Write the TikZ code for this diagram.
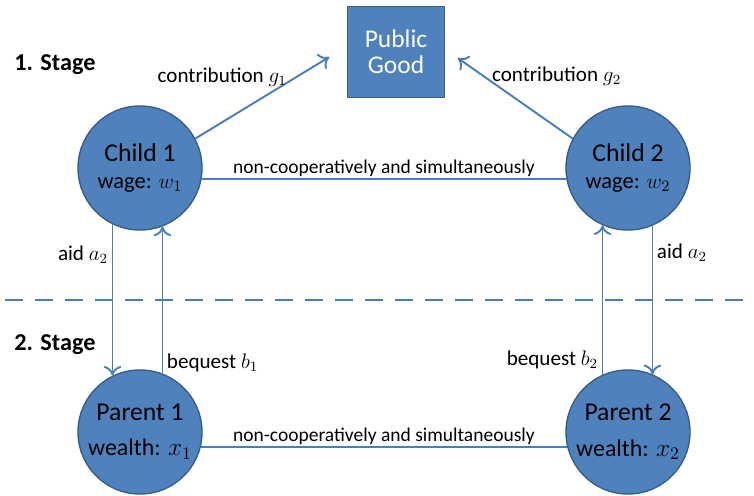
\documentclass[tikz,border=0pt]{standalone}
\usepackage{fontspec}
\setmainfont{Carlito}
\usetikzlibrary{arrows.meta}

\definecolor{boxblue}{HTML}{4F81BD}
\definecolor{rimblue}{HTML}{385D8A}
\definecolor{lineblue}{HTML}{4A7EBB}

\begin{document}
\begin{tikzpicture}[
    agent/.style={circle,draw=rimblue,thick,fill=boxblue,minimum size=2.48cm,inner sep=0pt,align=center,font=\fontsize{14.6}{16}\selectfont},
    good/.style={rectangle,draw=rimblue,thick,fill=boxblue,minimum width=1.94cm,minimum height=1.82cm,align=center,text=white,font=\fontsize{14.5}{17}\selectfont},
    flow/.style={draw=lineblue,line width=1.1pt,-{To[length=5.5pt,width=10pt]}},
    link/.style={draw=lineblue,line width=1.1pt},
    lbl/.style={font=\fontsize{12}{14}\selectfont,inner sep=2pt},
    small/.style={font=\fontsize{11.1}{13}\selectfont,inner sep=2pt},
    stage/.style={font=\bfseries\fontsize{13.8}{16}\selectfont,anchor=west,inner sep=0pt}
  ]
  \useasboundingbox (0,0) rectangle (15.08,9.9);

  % nodes
  \node[good] (pg) at (7.92,8.86) {Public\\[-2pt]Good};
  \node[agent] (c1) at (2.8,6.54) {Child 1\\[-1pt]{\fontsize{12.8}{14}\selectfont wage: $w_1$}};
  \node[agent] (c2) at (12.56,6.54) {Child 2\\[-1pt]{\fontsize{12.8}{14}\selectfont wage: $w_2$}};
  \node[agent] (p1) at (2.8,1.26) {Parent 1\\[4pt]{\fontsize{13.6}{15}\selectfont wealth: $x_1$}};
  \node[agent] (p2) at (12.56,1.26) {Parent 2\\[4pt]{\fontsize{13.6}{15}\selectfont wealth: $x_2$}};

  \node[stage] (s1) at (0.28,8.6) {1. Stage};
  \node[stage] (s2) at (0.28,3.0) {2. Stage};

  % stage divider
  \coordinate (dl) at (0.1,3.9);
  \coordinate (dr) at (15.08,3.9);
  \draw[lineblue,line width=1.2pt,dash pattern=on 0.36cm off 0.24cm] (dl) -- (dr);

  % contributions
  \draw[flow] (c1.28) -- ([xshift=-0.35cm,yshift=-0.1cm]pg.west)
    node[lbl,pos=0.69,anchor=base east,inner sep=0pt] {contribution $g_1$};
  \draw[flow] (c2.152) -- ([xshift=0.25cm,yshift=-0.12cm]pg.east)
    node[lbl,pos=0.71,anchor=base west,inner sep=0pt] {contribution $g_2$};

  % same stage
  \draw[link] (c1.-10) -- (c2.190)
    node[small,midway,above,inner sep=1pt] {non-cooperatively and simultaneously};
  \draw[link] (p1.-14) -- (p2.194)
    node[small,midway,above,inner sep=1pt] {non-cooperatively and simultaneously};

  % between stages
  \draw[flow] (c1.-116) -- (p1.116) node[lbl,pos=0.2,left] {aid $a_2$};
  \draw[flow] (p1.69) -- (c1.-69) node[lbl,pos=0.07,right] {bequest $b_1$};
  \draw[flow] (p2.114) -- (c2.-114) node[lbl,pos=0.1,left] {bequest $b_2$};
  \draw[flow] (c2.-67) -- (p2.67) node[lbl,pos=0.18,right] {aid $a_2$};
\end{tikzpicture}
\end{document}
